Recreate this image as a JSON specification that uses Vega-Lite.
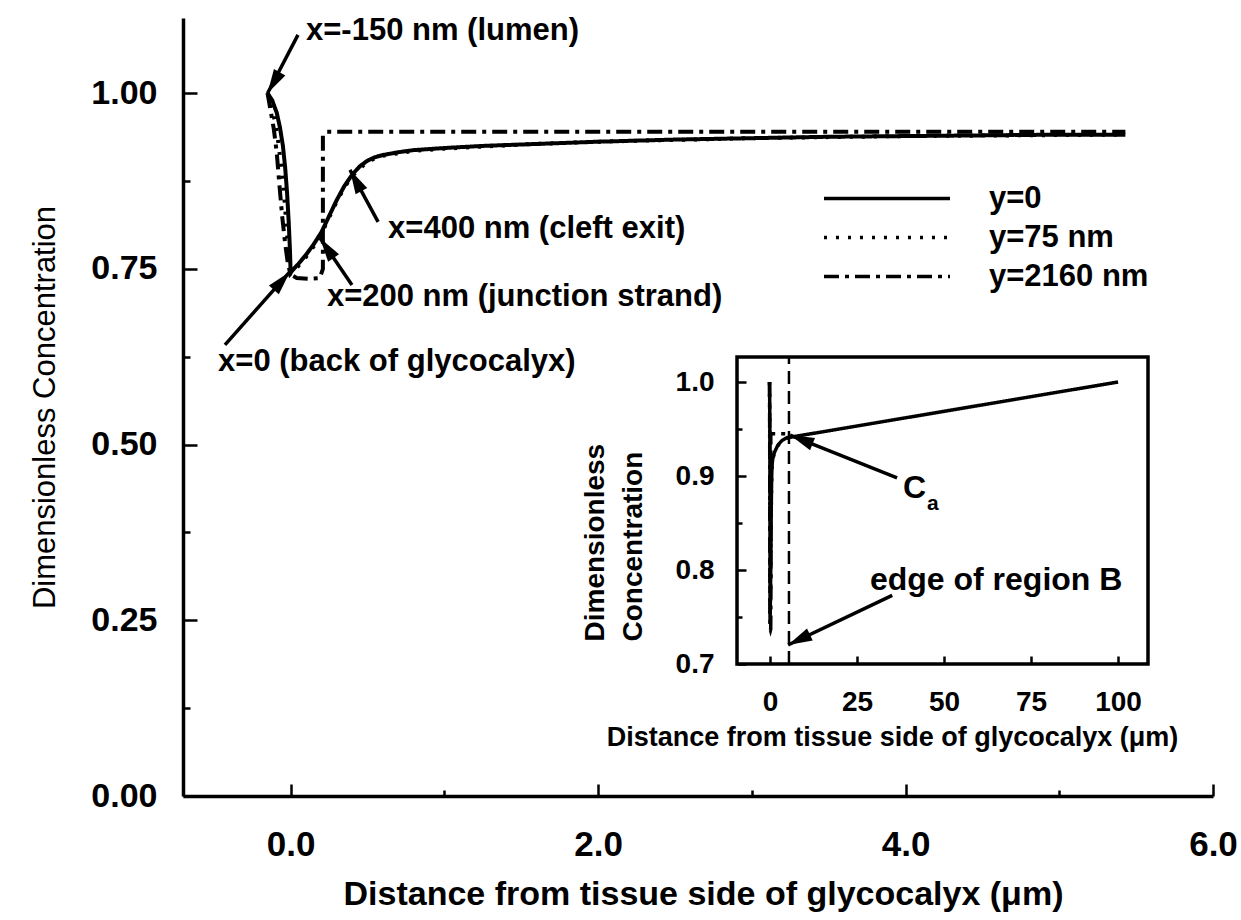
{
  "$schema": "https://vega.github.io/schema/vega-lite/v6.json",
  "width": 1030,
  "height": 778,
  "autosize": "none",
  "padding": {"left": 183, "top": 18, "right": 28, "bottom": 124},
  "background": "white",
  "config": {
    "view": {"stroke": null},
    "font": "Liberation Sans",
    "axis": {
      "grid": false,
      "domainColor": "black",
      "tickColor": "black",
      "labelColor": "black",
      "titleColor": "black",
      "labelFont": "Liberation Sans",
      "titleFont": "Liberation Sans",
      "labelFontWeight": "bold",
      "titleFontWeight": "bold",
      "labelFlush": false,
      "labelOverlap": false
    }
  },
  "datasets": {
    "profiles": [
      {"i": 1, "series": "y=0", "x": -0.15, "c": 1.0},
      {"i": 2, "series": "y=0", "x": -0.12, "c": 0.99},
      {"i": 3, "series": "y=0", "x": -0.09, "c": 0.972},
      {"i": 4, "series": "y=0", "x": -0.07, "c": 0.952},
      {"i": 5, "series": "y=0", "x": -0.05, "c": 0.925},
      {"i": 6, "series": "y=0", "x": -0.035, "c": 0.893},
      {"i": 7, "series": "y=0", "x": -0.023, "c": 0.858},
      {"i": 8, "series": "y=0", "x": -0.012, "c": 0.815},
      {"i": 9, "series": "y=0", "x": -0.004, "c": 0.775},
      {"i": 10, "series": "y=0", "x": 0.0, "c": 0.745},
      {"i": 11, "series": "y=0", "x": 0.05, "c": 0.757},
      {"i": 12, "series": "y=0", "x": 0.1, "c": 0.77},
      {"i": 13, "series": "y=0", "x": 0.15, "c": 0.785},
      {"i": 14, "series": "y=0", "x": 0.2, "c": 0.802},
      {"i": 15, "series": "y=0", "x": 0.25, "c": 0.825},
      {"i": 16, "series": "y=0", "x": 0.3, "c": 0.848},
      {"i": 17, "series": "y=0", "x": 0.35, "c": 0.868},
      {"i": 18, "series": "y=0", "x": 0.4, "c": 0.884},
      {"i": 19, "series": "y=0", "x": 0.45, "c": 0.896},
      {"i": 20, "series": "y=0", "x": 0.5, "c": 0.904},
      {"i": 21, "series": "y=0", "x": 0.55, "c": 0.909},
      {"i": 22, "series": "y=0", "x": 0.6, "c": 0.912},
      {"i": 23, "series": "y=0", "x": 0.7, "c": 0.916},
      {"i": 24, "series": "y=0", "x": 0.8, "c": 0.919},
      {"i": 25, "series": "y=0", "x": 1.0, "c": 0.922},
      {"i": 26, "series": "y=0", "x": 1.25, "c": 0.925},
      {"i": 27, "series": "y=0", "x": 1.5, "c": 0.927},
      {"i": 28, "series": "y=0", "x": 2.0, "c": 0.931},
      {"i": 29, "series": "y=0", "x": 2.5, "c": 0.934},
      {"i": 30, "series": "y=0", "x": 3.0, "c": 0.936},
      {"i": 31, "series": "y=0", "x": 3.5, "c": 0.938},
      {"i": 32, "series": "y=0", "x": 4.0, "c": 0.939},
      {"i": 33, "series": "y=0", "x": 4.5, "c": 0.94},
      {"i": 34, "series": "y=0", "x": 5.0, "c": 0.941},
      {"i": 35, "series": "y=0", "x": 5.43, "c": 0.941},
      {"i": 36, "series": "y=0", "x": 100, "c": 1.0},

      {"i": 1, "series": "y=75 nm", "x": -0.15, "c": 1.0},
      {"i": 2, "series": "y=75 nm", "x": -0.125, "c": 0.982},
      {"i": 3, "series": "y=75 nm", "x": -0.1, "c": 0.958},
      {"i": 4, "series": "y=75 nm", "x": -0.08, "c": 0.93},
      {"i": 5, "series": "y=75 nm", "x": -0.06, "c": 0.893},
      {"i": 6, "series": "y=75 nm", "x": -0.04, "c": 0.848},
      {"i": 7, "series": "y=75 nm", "x": -0.025, "c": 0.805},
      {"i": 8, "series": "y=75 nm", "x": -0.012, "c": 0.77},
      {"i": 9, "series": "y=75 nm", "x": 0.0, "c": 0.743},
      {"i": 10, "series": "y=75 nm", "x": 0.05, "c": 0.754},
      {"i": 11, "series": "y=75 nm", "x": 0.1, "c": 0.767},
      {"i": 12, "series": "y=75 nm", "x": 0.15, "c": 0.782},
      {"i": 13, "series": "y=75 nm", "x": 0.2, "c": 0.8},
      {"i": 14, "series": "y=75 nm", "x": 0.25, "c": 0.823},
      {"i": 15, "series": "y=75 nm", "x": 0.3, "c": 0.846},
      {"i": 16, "series": "y=75 nm", "x": 0.35, "c": 0.866},
      {"i": 17, "series": "y=75 nm", "x": 0.4, "c": 0.882},
      {"i": 18, "series": "y=75 nm", "x": 0.5, "c": 0.903},
      {"i": 19, "series": "y=75 nm", "x": 0.6, "c": 0.911},
      {"i": 20, "series": "y=75 nm", "x": 0.8, "c": 0.918},
      {"i": 21, "series": "y=75 nm", "x": 1.0, "c": 0.921},
      {"i": 22, "series": "y=75 nm", "x": 1.5, "c": 0.927},
      {"i": 23, "series": "y=75 nm", "x": 2.0, "c": 0.931},
      {"i": 24, "series": "y=75 nm", "x": 3.0, "c": 0.936},
      {"i": 25, "series": "y=75 nm", "x": 4.0, "c": 0.939},
      {"i": 26, "series": "y=75 nm", "x": 5.43, "c": 0.941},

      {"i": 1, "series": "y=2160 nm", "x": -0.15, "c": 1.0},
      {"i": 2, "series": "y=2160 nm", "x": -0.13, "c": 0.975},
      {"i": 3, "series": "y=2160 nm", "x": -0.11, "c": 0.95},
      {"i": 4, "series": "y=2160 nm", "x": -0.09, "c": 0.915},
      {"i": 5, "series": "y=2160 nm", "x": -0.075, "c": 0.875},
      {"i": 6, "series": "y=2160 nm", "x": -0.055, "c": 0.825},
      {"i": 7, "series": "y=2160 nm", "x": -0.035, "c": 0.785},
      {"i": 8, "series": "y=2160 nm", "x": -0.018, "c": 0.758},
      {"i": 9, "series": "y=2160 nm", "x": 0.0, "c": 0.742},
      {"i": 10, "series": "y=2160 nm", "x": 0.04, "c": 0.737},
      {"i": 11, "series": "y=2160 nm", "x": 0.12, "c": 0.736},
      {"i": 12, "series": "y=2160 nm", "x": 0.19, "c": 0.737},
      {"i": 13, "series": "y=2160 nm", "x": 0.21, "c": 0.75},
      {"i": 14, "series": "y=2160 nm", "x": 0.21, "c": 0.94},
      {"i": 15, "series": "y=2160 nm", "x": 0.235, "c": 0.945},
      {"i": 16, "series": "y=2160 nm", "x": 1.0, "c": 0.945},
      {"i": 17, "series": "y=2160 nm", "x": 3.0, "c": 0.945},
      {"i": 18, "series": "y=2160 nm", "x": 5.43, "c": 0.945}
    ],
    "notes": [
      {"label": "x=-150 nm (lumen)", "x": 0.1, "c": 1.088},
      {"label": "x=400 nm (cleft exit)", "x": 0.634, "c": 0.807},
      {"label": "x=200 nm (junction strand)", "x": 0.236, "c": 0.71},
      {"label": "x=0 (back of glycocalyx)", "x": -0.472, "c": 0.618}
    ],
    "arrows": [
      {"id": "lumen", "x": 0.048, "c": 1.083, "x2": -0.15, "c2": 1.0},
      {"id": "exit", "x": 0.569, "c": 0.817, "x2": 0.386, "c2": 0.891},
      {"id": "strand", "x": 0.399, "c": 0.727, "x2": 0.191, "c2": 0.794},
      {"id": "back", "x": -0.427, "c": 0.642, "x2": -0.004, "c2": 0.746}
    ],
    "insetNotes": [
      {"label": "C", "x": 38.2, "c": 0.887, "size": "big"},
      {"label": "a", "x": 45.1, "c": 0.87, "size": "sub"},
      {"label": "edge of region B", "x": 28.7, "c": 0.789, "size": "big"}
    ],
    "insetArrows": [
      {"id": "ca", "x": 36.5, "c": 0.898, "x2": 5.75, "c2": 0.9436},
      {"id": "edge", "x": 35.1, "c": 0.773, "x2": 5.17, "c2": 0.7202}
    ]
  },
  "layer": [
    {
      "layer": [
        {
          "data": {"name": "profiles"},
          "transform": [{"filter": "datum.x <= 6"}],
          "mark": {"type": "line", "color": "black", "strokeWidth": 4},
          "encoding": {
            "x": {
              "field": "x", "type": "quantitative",
              "scale": {"domain": [-0.7, 6.0], "nice": false, "zero": false},
              "axis": {
                "values": [0, 1, 2, 3, 4, 5, 6],
                "labelExpr": "datum.value % 2 == 0 ? format(datum.value, '.1f') : ''",
                "tickSize": {"condition": {"test": "datum.value % 2 != 0", "value": -6}, "value": -12},
                "tickWidth": 2.5,
                "domainWidth": 3.5,
                "labelFontSize": 35,
                "labelPadding": 60,
                "labelBaseline": "middle",
                "title": "Distance from tissue side of glycocalyx (μm)",
                "titleFontSize": 34,
                "titleX": 520,
                "titleY": 98,
                "titleAlign": "center",
                "titleBaseline": "middle"
              }
            },
            "y": {
              "field": "c", "type": "quantitative",
              "scale": {"domain": [0, 1.107], "nice": false, "zero": false},
              "axis": {
                "values": [0, 0.125, 0.25, 0.375, 0.5, 0.625, 0.75, 0.875, 1.0],
                "labelExpr": "datum.value * 4 % 1 == 0 ? format(datum.value, '.2f') : ''",
                "tickSize": {"condition": {"test": "datum.value * 4 % 1 != 0", "value": -7}, "value": -14},
                "tickWidth": 2.5,
                "domainWidth": 3.5,
                "labelFontSize": 34,
                "labelPadding": 40,
                "title": "Dimensionless Concentration",
                "titleFontSize": 31,
                "titleFontWeight": "normal",
                "titleAngle": -90,
                "titleX": -138,
                "titleY": 389,
                "titleAlign": "center",
                "titleBaseline": "middle"
              }
            },
            "strokeDash": {
              "field": "series", "type": "nominal",
              "scale": {"domain": ["y=0", "y=75 nm", "y=2160 nm"], "range": [[1, 0], [3, 9], [15, 6, 4, 6]]},
              "legend": {
                "orient": "none",
                "legendX": 639,
                "legendY": 161,
                "title": null,
                "symbolType": "stroke",
                "symbolSize": 15876,
                "symbolStrokeWidth": 3.5,
                "symbolStrokeColor": "black",
                "labelFont": "Liberation Sans",
                "labelFontSize": 31,
                "labelFontWeight": "bold",
                "labelColor": "black",
                "labelOffset": 37,
                "clipHeight": 39,
                "rowPadding": 0,
                "padding": 0
              }
            },
            "order": {"field": "i", "type": "quantitative"}
          }
        },
        {
          "data": {"name": "arrows"},
          "mark": {"type": "rule", "color": "black", "strokeWidth": 3.5},
          "encoding": {
            "x": {"field": "x", "type": "quantitative"},
            "y": {"field": "c", "type": "quantitative"},
            "x2": {"field": "x2"},
            "y2": {"field": "c2"}
          }
        },
        {
          "data": {"name": "arrows"},
          "transform": [{"filter": "datum.id == 'lumen'"}],
          "mark": {"type": "point", "shape": "M0,0L0.6,2.2L-0.6,2.2Z", "size": 484, "filled": true, "color": "black", "opacity": 1, "angle": 210},
          "encoding": {"x": {"field": "x2", "type": "quantitative"}, "y": {"field": "c2", "type": "quantitative"}}
        },
        {
          "data": {"name": "arrows"},
          "transform": [{"filter": "datum.id == 'exit'"}],
          "mark": {"type": "point", "shape": "M0,0L0.6,2.2L-0.6,2.2Z", "size": 484, "filled": true, "color": "black", "opacity": 1, "angle": 331.7},
          "encoding": {"x": {"field": "x2", "type": "quantitative"}, "y": {"field": "c2", "type": "quantitative"}}
        },
        {
          "data": {"name": "arrows"},
          "transform": [{"filter": "datum.id == 'strand'"}],
          "mark": {"type": "point", "shape": "M0,0L0.6,2.2L-0.6,2.2Z", "size": 484, "filled": true, "color": "black", "opacity": 1, "angle": 325.8},
          "encoding": {"x": {"field": "x2", "type": "quantitative"}, "y": {"field": "c2", "type": "quantitative"}}
        },
        {
          "data": {"name": "arrows"},
          "transform": [{"filter": "datum.id == 'back'"}],
          "mark": {"type": "point", "shape": "M0,0L0.6,2.2L-0.6,2.2Z", "size": 484, "filled": true, "color": "black", "opacity": 1, "angle": 41.7},
          "encoding": {"x": {"field": "x2", "type": "quantitative"}, "y": {"field": "c2", "type": "quantitative"}}
        },
        {
          "data": {"name": "notes"},
          "mark": {"type": "text", "align": "left", "baseline": "middle", "font": "Liberation Sans", "fontSize": 31, "fontWeight": "bold", "color": "black"},
          "encoding": {
            "x": {"field": "x", "type": "quantitative"},
            "y": {"field": "c", "type": "quantitative"},
            "text": {"field": "label"}
          }
        }
      ]
    },
    {
      "layer": [
        {
          "data": {"values": [{}]},
          "mark": {"type": "rect", "fill": "white", "fillOpacity": 0, "stroke": "black", "strokeWidth": 3.5},
          "encoding": {
            "x": {"datum": -9.5, "type": "quantitative", "scale": {"domain": [-9.5, 108.6], "range": [554, 965], "nice": false, "zero": false}},
            "x2": {"datum": 108.6},
            "y": {"datum": 0.7, "type": "quantitative", "scale": {"domain": [0.7, 1.0266], "range": [646, 339], "nice": false, "zero": false}},
            "y2": {"datum": 1.0266}
          }
        },
        {
          "data": {"values": [{}]},
          "mark": {"type": "rule", "color": "black", "strokeWidth": 2.5, "strokeDash": [13, 7]},
          "encoding": {
            "x": {"datum": 5.43, "type": "quantitative"},
            "y": {"datum": 0.7, "type": "quantitative"},
            "y2": {"datum": 1.0266}
          }
        },
        {
          "data": {"name": "profiles"},
          "mark": {"type": "line", "color": "black", "strokeWidth": 3.5},
          "encoding": {
            "x": {
              "field": "x", "type": "quantitative",
              "axis": {
                "orient": "bottom",
                "offset": -132,
                "domain": false,
                "values": [0, 25, 50, 75, 100],
                "tickSize": -8,
                "tickWidth": 2.5,
                "labelFontSize": 28,
                "labelPadding": 46,
                "labelBaseline": "middle",
                "title": "Distance from tissue side of glycocalyx (μm)",
                "titleFontSize": 27,
                "titleX": 709,
                "titleY": 73,
                "titleAlign": "center",
                "titleBaseline": "middle"
              }
            },
            "y": {
              "field": "c", "type": "quantitative",
              "axis": {
                "orient": "left",
                "offset": -554,
                "domain": false,
                "values": [0.7, 0.75, 0.8, 0.85, 0.9, 0.95, 1.0],
                "labelExpr": "round(datum.value * 100) % 10 == 0 ? format(datum.value, '.1f') : ''",
                "tickSize": {"condition": {"test": "round(datum.value * 100) % 10 != 0", "value": -5}, "value": -9},
                "tickWidth": 2.5,
                "labelFontSize": 28,
                "labelPadding": 32,
                "title": ["Dimensionless", "Concentration"],
                "titleFontSize": 28,
                "titleAngle": -90,
                "titleX": -142,
                "titleY": 623,
                "titleAlign": "left",
                "titleBaseline": "middle",
                "titleLineHeight": 38
              }
            },
            "strokeDash": {"field": "series", "type": "nominal", "legend": null},
            "order": {"field": "i", "type": "quantitative"}
          }
        },
        {
          "data": {"name": "insetArrows"},
          "mark": {"type": "rule", "color": "black", "strokeWidth": 3.5},
          "encoding": {
            "x": {"field": "x", "type": "quantitative"},
            "y": {"field": "c", "type": "quantitative"},
            "x2": {"field": "x2"},
            "y2": {"field": "c2"}
          }
        },
        {
          "data": {"name": "insetArrows"},
          "transform": [{"filter": "datum.id == 'ca'"}],
          "mark": {"type": "point", "shape": "M0,0L0.6,2.2L-0.6,2.2Z", "size": 484, "filled": true, "color": "black", "opacity": 1, "angle": 291.9},
          "encoding": {"x": {"field": "x2", "type": "quantitative"}, "y": {"field": "c2", "type": "quantitative"}}
        },
        {
          "data": {"name": "insetArrows"},
          "transform": [{"filter": "datum.id == 'edge'"}],
          "mark": {"type": "point", "shape": "M0,0L0.6,2.2L-0.6,2.2Z", "size": 484, "filled": true, "color": "black", "opacity": 1, "angle": 244.3},
          "encoding": {"x": {"field": "x2", "type": "quantitative"}, "y": {"field": "c2", "type": "quantitative"}}
        },
        {
          "data": {"name": "insetNotes"},
          "transform": [{"filter": "datum.size == 'big'"}],
          "mark": {"type": "text", "align": "left", "baseline": "middle", "font": "Liberation Sans", "fontSize": 32, "fontWeight": "bold", "color": "black"},
          "encoding": {
            "x": {"field": "x", "type": "quantitative"},
            "y": {"field": "c", "type": "quantitative"},
            "text": {"field": "label"}
          }
        },
        {
          "data": {"name": "insetNotes"},
          "transform": [{"filter": "datum.size == 'sub'"}],
          "mark": {"type": "text", "align": "left", "baseline": "middle", "font": "Liberation Sans", "fontSize": 21, "fontWeight": "bold", "color": "black"},
          "encoding": {
            "x": {"field": "x", "type": "quantitative"},
            "y": {"field": "c", "type": "quantitative"},
            "text": {"field": "label"}
          }
        }
      ]
    }
  ],
  "resolve": {"scale": {"x": "independent", "y": "independent"}}
}
